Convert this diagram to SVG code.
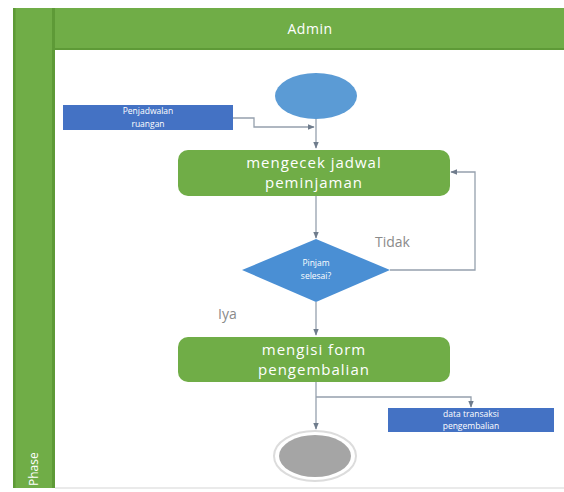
<svg xmlns="http://www.w3.org/2000/svg" width="564" height="492" viewBox="0 0 564 492">
  <defs>
    <marker id="arrow" viewBox="0 0 10 10" refX="9" refY="5" markerWidth="7" markerHeight="7" orient="auto" markerUnits="userSpaceOnUse">
      <path d="M0,1 L10,5 L0,9 Z" fill="#6f7c8c"/>
    </marker>
    <style>
      .lane { fill: #70ad47; }
      .edge { fill: #5e9a37; }
      .action { fill: #70ad47; }
      .object { fill: #4472c4; }
      .flow { fill: none; stroke: #95a0ad; stroke-width: 1.3; }
      .act-text { font-family: "Open Sans", "Noto Sans", sans-serif; font-size: 15px; fill: #ffffff; text-anchor: middle; letter-spacing: 1px; }
      .obj-text { font-family: "Open Sans", "Noto Sans", sans-serif; font-size: 8.5px; fill: #ffffff; text-anchor: middle; }
      .guard { font-family: "Open Sans", "Noto Sans", sans-serif; font-size: 14px; fill: #8a8a8a; }
    </style>
  </defs>

  <rect x="0" y="0" width="564" height="492" fill="#ffffff"/>

  <!-- swimlane frame -->
  <g id="lane">
    <rect class="lane" x="13" y="8" width="42" height="480"/>
    <rect class="edge" x="13" y="8" width="2.5" height="480"/>
    <rect class="edge" x="52" y="8" width="3" height="480"/>
    <rect class="lane" x="55" y="8" width="509" height="42"/>
    <rect class="edge" x="55" y="48" width="509" height="2"/>
    <line x1="55" y1="488" x2="564" y2="488" stroke="#e3e3e3" stroke-width="1.5"/>
    <text x="310" y="34" font-family="Open Sans, Noto Sans, sans-serif" font-size="14" fill="#ffffff" text-anchor="middle" letter-spacing="0.5">Admin</text>
    <text transform="translate(38,486) rotate(-90)" font-family="Open Sans, Noto Sans, sans-serif" font-size="12" fill="#ffffff">Phase</text>
  </g>

  <!-- connectors -->
  <g id="connectors">
    <line class="flow" x1="316" y1="119" x2="316" y2="148" marker-end="url(#arrow)"/>
    <polyline class="flow" points="233,118 254,118 254,127 314,127" marker-end="url(#arrow)"/>
    <line class="flow" x1="316" y1="196" x2="316" y2="238" marker-end="url(#arrow)"/>
    <polyline class="flow" points="390,270 475,270 475,172 451,172" marker-end="url(#arrow)"/>
    <line class="flow" x1="316" y1="302" x2="316" y2="335" marker-end="url(#arrow)"/>
    <line class="flow" x1="316" y1="382" x2="316" y2="429" marker-end="url(#arrow)"/>
    <polyline class="flow" points="316,397 471,397 471,407" marker-end="url(#arrow)"/>
  </g>

  <!-- initial node -->
  <g id="start">
    <ellipse cx="316" cy="96" rx="41" ry="23" fill="#5b9bd5"/>
  </g>

  <!-- input object -->
  <g id="penjadwalan">
    <rect class="object" x="63" y="105" width="170" height="25"/>
    <text class="obj-text" x="148" y="114">Penjadwalan</text>
    <text class="obj-text" x="148" y="126.5">ruangan</text>
  </g>

  <!-- action: check schedule -->
  <g id="mengecek">
    <rect class="action" x="178" y="150" width="272" height="46" rx="10"/>
    <text class="act-text" x="314" y="168">mengecek jadwal</text>
    <text class="act-text" x="314" y="188">peminjaman</text>
  </g>

  <!-- decision -->
  <g id="decision">
    <polygon points="316,239 390,270 316,302 242,270" fill="#4a8fd4"/>
    <text class="obj-text" x="316" y="266">Pinjam</text>
    <text class="obj-text" x="316" y="279">selesai?</text>
  </g>
  <text class="guard" x="375" y="247">Tidak</text>
  <text class="guard" x="218" y="319">Iya</text>

  <!-- action: fill return form -->
  <g id="mengisi">
    <rect class="action" x="178" y="337" width="272" height="45" rx="10"/>
    <text class="act-text" x="314" y="355">mengisi form</text>
    <text class="act-text" x="314" y="375">pengembalian</text>
  </g>

  <!-- output object -->
  <g id="transaksi">
    <rect class="object" x="388" y="408" width="166" height="24"/>
    <text class="obj-text" x="471" y="416.5">data transaksi</text>
    <text class="obj-text" x="471" y="429">pengembalian</text>
  </g>

  <!-- final node -->
  <g id="end">
    <ellipse cx="315" cy="456" rx="41" ry="25" fill="#ffffff" stroke="#dcdcdc" stroke-width="2"/>
    <ellipse cx="315" cy="456" rx="36" ry="21" fill="#a5a5a5"/>
  </g>
</svg>
